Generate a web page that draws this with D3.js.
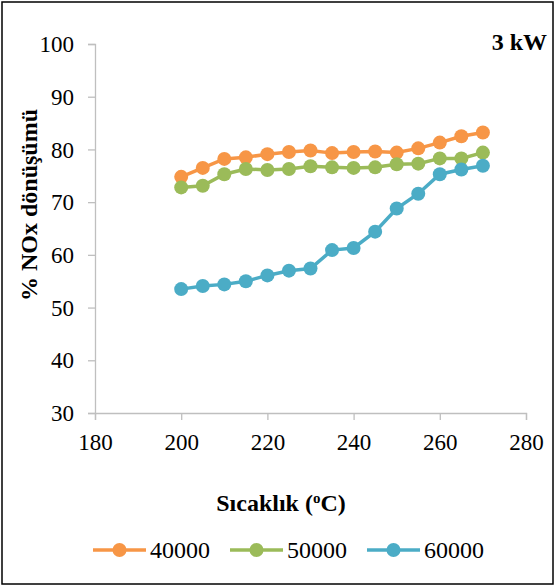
<!DOCTYPE html>
<html>
<head>
<meta charset="utf-8">
<script src="https://cdn.jsdelivr.net/npm/d3@7"></script>
<style>
body { margin: 0; background: #fff; }
</style>
</head>
<body>
<script>
// Data
var temps = [200, 205, 210, 215, 220, 225, 230, 235, 240, 245, 250, 255, 260, 265, 270];
var s40000 = [74.8, 76.5, 78.2, 78.5, 79.1, 79.5, 79.8, 79.3, 79.5, 79.6, 79.4, 80.2, 81.3, 82.5, 83.2];
var s50000 = [72.8, 73.1, 75.3, 76.3, 76.1, 76.3, 76.8, 76.6, 76.5, 76.6, 77.2, 77.3, 78.3, 78.3, 79.4];
var s60000 = [53.5, 54.1, 54.4, 55.0, 56.1, 57.0, 57.4, 60.9, 61.3, 64.4, 68.8, 71.6, 75.3, 76.2, 76.9];
var seriesNames = ['40000', '50000', '60000'];
var colors = ['#F79646', '#9BBB59', '#4BACC6'];
var xTicks = [180, 200, 220, 240, 260, 280];
var yTicks = [30, 40, 50, 60, 70, 80, 90, 100];

var W = 555, H = 586;
var margin = {top: 44, right: 29, bottom: 173, left: 95};
var FONT = 'Liberation Serif';

var svg = d3.select('body').append('svg')
    .attr('width', W)
    .attr('height', H)
    .attr('font-family', FONT);

// Outer frame
svg.append('rect')
    .attr('x', 2).attr('y', 2)
    .attr('width', W - 4).attr('height', H - 4)
    .attr('fill', 'none')
    .attr('stroke', '#000')
    .attr('stroke-width', 1.5);

var x = d3.scaleLinear().domain([180, 280]).range([margin.left, W - margin.right]);
var y = d3.scaleLinear().domain([30, 100]).range([H - margin.bottom, margin.top]);

// Axes
var xAxis = svg.append('g')
    .attr('transform', 'translate(0,' + y(30) + ')')
    .call(d3.axisBottom(x).tickValues(xTicks).tickSize(7));
var yAxis = svg.append('g')
    .attr('transform', 'translate(' + x(180) + ',0)')
    .call(d3.axisLeft(y).tickValues(yTicks).tickSize(7).tickPadding(14));

[xAxis, yAxis].forEach(function(a) {
    a.attr('font-family', FONT).attr('font-size', 23);
    a.select('.domain').attr('stroke', '#BFBFBF').attr('stroke-width', 1.3);
    a.selectAll('.tick line').attr('stroke', '#BFBFBF').attr('stroke-width', 1.3);
    a.selectAll('.tick text').attr('fill', '#000');
});
xAxis.selectAll('.tick text').attr('y', 37).attr('dy', 0);
yAxis.selectAll('.tick text').attr('dy', '0.33em');

// Series
var allSeries = [s40000, s50000, s60000];
var line = d3.line()
    .x(function(d, i) { return x(temps[i]); })
    .y(function(d) { return y(d); });

allSeries.forEach(function(vals, k) {
    svg.append('path')
        .datum(vals)
        .attr('fill', 'none')
        .attr('stroke', colors[k])
        .attr('stroke-width', 3.5)
        .attr('d', line);
    svg.selectAll('.pt' + k)
        .data(vals)
        .enter().append('circle')
        .attr('cx', function(d, i) { return x(temps[i]); })
        .attr('cy', function(d) { return y(d); })
        .attr('r', 7)
        .attr('fill', colors[k]);
});

// Titles
svg.append('text')
    .attr('x', 547).attr('y', 50)
    .attr('text-anchor', 'end')
    .attr('font-size', 24)
    .attr('font-weight', 'bold')
    .text('3 kW');

var xt = svg.append('text')
    .attr('x', 281)
    .attr('y', 511)
    .attr('text-anchor', 'middle')
    .attr('font-size', 24)
    .attr('font-weight', 'bold');
xt.append('tspan').text('Sıcaklık (');
xt.append('tspan').attr('dy', -8).attr('font-size', 15).text('o');
xt.append('tspan').attr('dy', 8).text('C)');

svg.append('text')
    .attr('transform', 'translate(37,205) rotate(-90)')
    .attr('text-anchor', 'middle')
    .attr('font-size', 24)
    .attr('font-weight', 'bold')
    .text('% NOx dönüşümü');

// Legend
var legendX = [93, 230, 367];
var leg = svg.selectAll('.leg')
    .data(seriesNames)
    .enter().append('g')
    .attr('transform', function(d, i) { return 'translate(' + legendX[i] + ',550)'; });
leg.append('line')
    .attr('x1', 0).attr('x2', 53)
    .attr('stroke', function(d, i) { return colors[i]; })
    .attr('stroke-width', 3.5);
leg.append('circle')
    .attr('cx', 26.5).attr('r', 7)
    .attr('fill', function(d, i) { return colors[i]; });
leg.append('text')
    .attr('x', 57).attr('dy', '0.33em')
    .attr('font-size', 24)
    .text(function(d) { return d; });
</script>
</body>
</html>
